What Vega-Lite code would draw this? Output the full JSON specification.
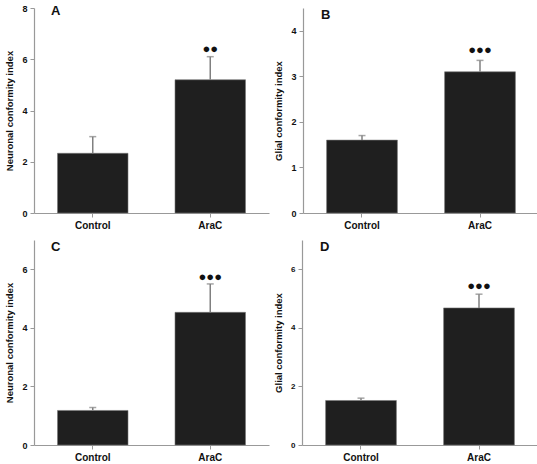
{
  "$schema": "https://vega.github.io/schema/vega-lite/v6.json",
  "padding": {"left": 4, "top": 4, "right": 0, "bottom": 0},
  "background": "white",
  "data": {"values": [
    {"panel": "A", "group": "Control", "value": 2.33, "err": 2.98, "sig": ""},
    {"panel": "A", "group": "AraC", "value": 5.2, "err": 6.1, "sig": "●●"},
    {"panel": "B", "group": "Control", "value": 1.6, "err": 1.7, "sig": ""},
    {"panel": "B", "group": "AraC", "value": 3.1, "err": 3.35, "sig": "●●●"},
    {"panel": "C", "group": "Control", "value": 1.18, "err": 1.28, "sig": ""},
    {"panel": "C", "group": "AraC", "value": 4.53, "err": 5.5, "sig": "●●●"},
    {"panel": "D", "group": "Control", "value": 1.52, "err": 1.6, "sig": ""},
    {"panel": "D", "group": "AraC", "value": 4.68, "err": 5.15, "sig": "●●●"}
  ]},
  "spacing": 10,
  "vconcat": [
    {"hconcat": [
      {
        "width": 235, "height": 205,
        "transform": [{"filter": "datum.panel === 'A'"}],
        "title": {"text": "A", "anchor": "start", "frame": "group", "offset": -14, "dx": 17},
        "encoding": {"x": {"field": "group", "type": "nominal", "sort": ["Control", "AraC"], "scale": {"paddingInner": 0.4, "paddingOuter": 0.2}, "axis": {"title": null, "labelAngle": 0}}},
        "layer": [
          {"mark": {"type": "bar", "color": "#1f1f1f", "stroke": "#777", "strokeWidth": 0.6},
           "encoding": {"y": {"field": "value", "type": "quantitative", "scale": {"domain": [0, 8], "nice": false}, "axis": {"title": "Neuronal conformity index", "values": [0, 2, 4, 6, 8]}}}},
          {"mark": {"type": "rule", "color": "#808080", "strokeWidth": 1.5},
           "encoding": {"y": {"field": "value", "type": "quantitative", "scale": {"domain": [0, 8], "nice": false}}, "y2": {"field": "err"}}},
          {"mark": {"type": "tick", "color": "#808080", "thickness": 1.5, "size": 7},
           "encoding": {"y": {"field": "err", "type": "quantitative", "scale": {"domain": [0, 8], "nice": false}}}},
          {"mark": {"type": "text", "baseline": "bottom", "dy": -1, "fontSize": 13, "font": "Liberation Sans", "color": "#111"},
           "encoding": {"y": {"field": "err", "type": "quantitative", "scale": {"domain": [0, 8], "nice": false}}, "text": {"field": "sig"}}}
        ]
      },
      {
        "width": 236, "height": 205,
        "transform": [{"filter": "datum.panel === 'B'"}],
        "title": {"text": "B", "anchor": "start", "frame": "group", "offset": -14, "dx": 18},
        "encoding": {"x": {"field": "group", "type": "nominal", "sort": ["Control", "AraC"], "scale": {"paddingInner": 0.4, "paddingOuter": 0.2}, "axis": {"title": null, "labelAngle": 0}}},
        "layer": [
          {"mark": {"type": "bar", "color": "#1f1f1f", "stroke": "#777", "strokeWidth": 0.6},
           "encoding": {"y": {"field": "value", "type": "quantitative", "scale": {"domain": [0, 4.5], "nice": false}, "axis": {"title": "Glial conformity index", "values": [0, 1, 2, 3, 4]}}}},
          {"mark": {"type": "rule", "color": "#808080", "strokeWidth": 1.5},
           "encoding": {"y": {"field": "value", "type": "quantitative", "scale": {"domain": [0, 4.5], "nice": false}}, "y2": {"field": "err"}}},
          {"mark": {"type": "tick", "color": "#808080", "thickness": 1.5, "size": 7},
           "encoding": {"y": {"field": "err", "type": "quantitative", "scale": {"domain": [0, 4.5], "nice": false}}}},
          {"mark": {"type": "text", "baseline": "bottom", "dy": -3, "fontSize": 13, "font": "Liberation Sans", "color": "#111"},
           "encoding": {"y": {"field": "err", "type": "quantitative", "scale": {"domain": [0, 4.5], "nice": false}}, "text": {"field": "sig"}}}
        ]
      }
    ]},
    {"hconcat": [
      {
        "width": 235, "height": 205,
        "transform": [{"filter": "datum.panel === 'C'"}],
        "title": {"text": "C", "anchor": "start", "frame": "group", "offset": -14, "dx": 17},
        "encoding": {"x": {"field": "group", "type": "nominal", "sort": ["Control", "AraC"], "scale": {"paddingInner": 0.4, "paddingOuter": 0.2}, "axis": {"title": null, "labelAngle": 0}}},
        "layer": [
          {"mark": {"type": "bar", "color": "#1f1f1f", "stroke": "#777", "strokeWidth": 0.6},
           "encoding": {"y": {"field": "value", "type": "quantitative", "scale": {"domain": [0, 7], "nice": false}, "axis": {"title": "Neuronal conformity index", "values": [0, 2, 4, 6]}}}},
          {"mark": {"type": "rule", "color": "#808080", "strokeWidth": 1.5},
           "encoding": {"y": {"field": "value", "type": "quantitative", "scale": {"domain": [0, 7], "nice": false}}, "y2": {"field": "err"}}},
          {"mark": {"type": "tick", "color": "#808080", "thickness": 1.5, "size": 7},
           "encoding": {"y": {"field": "err", "type": "quantitative", "scale": {"domain": [0, 7], "nice": false}}}},
          {"mark": {"type": "text", "baseline": "bottom", "dy": 0, "fontSize": 13, "font": "Liberation Sans", "color": "#111"},
           "encoding": {"y": {"field": "err", "type": "quantitative", "scale": {"domain": [0, 7], "nice": false}}, "text": {"field": "sig"}}}
        ]
      },
      {
        "width": 236, "height": 205,
        "transform": [{"filter": "datum.panel === 'D'"}],
        "title": {"text": "D", "anchor": "start", "frame": "group", "offset": -14, "dx": 18},
        "encoding": {"x": {"field": "group", "type": "nominal", "sort": ["Control", "AraC"], "scale": {"paddingInner": 0.4, "paddingOuter": 0.2}, "axis": {"title": null, "labelAngle": 0}}},
        "layer": [
          {"mark": {"type": "bar", "color": "#1f1f1f", "stroke": "#777", "strokeWidth": 0.6},
           "encoding": {"y": {"field": "value", "type": "quantitative", "scale": {"domain": [0, 7], "nice": false}, "axis": {"title": "Glial conformity index", "values": [0, 2, 4, 6], "labelFontSize": 8}}}},
          {"mark": {"type": "rule", "color": "#808080", "strokeWidth": 1.5},
           "encoding": {"y": {"field": "value", "type": "quantitative", "scale": {"domain": [0, 7], "nice": false}}, "y2": {"field": "err"}}},
          {"mark": {"type": "tick", "color": "#808080", "thickness": 1.5, "size": 7},
           "encoding": {"y": {"field": "err", "type": "quantitative", "scale": {"domain": [0, 7], "nice": false}}}},
          {"mark": {"type": "text", "baseline": "bottom", "dy": -1, "fontSize": 13, "font": "Liberation Sans", "color": "#111"},
           "encoding": {"y": {"field": "err", "type": "quantitative", "scale": {"domain": [0, 7], "nice": false}}, "text": {"field": "sig"}}}
        ]
      }
    ]}
  ],
  "config": {
    "view": {"stroke": null},
    "concat": {"spacing": 4},
    "title": {"font": "Liberation Sans", "fontSize": 13, "fontWeight": "bold", "color": "#111"},
    "axis": {
      "grid": false,
      "domainColor": "#999", "domainWidth": 1.2,
      "tickColor": "#999", "tickSize": 4, "tickWidth": 1,
      "labelFont": "Liberation Sans", "labelFontWeight": "bold", "labelFontSize": 9, "labelColor": "#111", "labelPadding": 3,
      "titleFont": "Liberation Sans", "titleFontWeight": "bold", "titleFontSize": 9.5, "titleColor": "#111", "titlePadding": 7
    },
    "axisX": {"labelFontSize": 10, "labelPadding": 3}
  }
}
